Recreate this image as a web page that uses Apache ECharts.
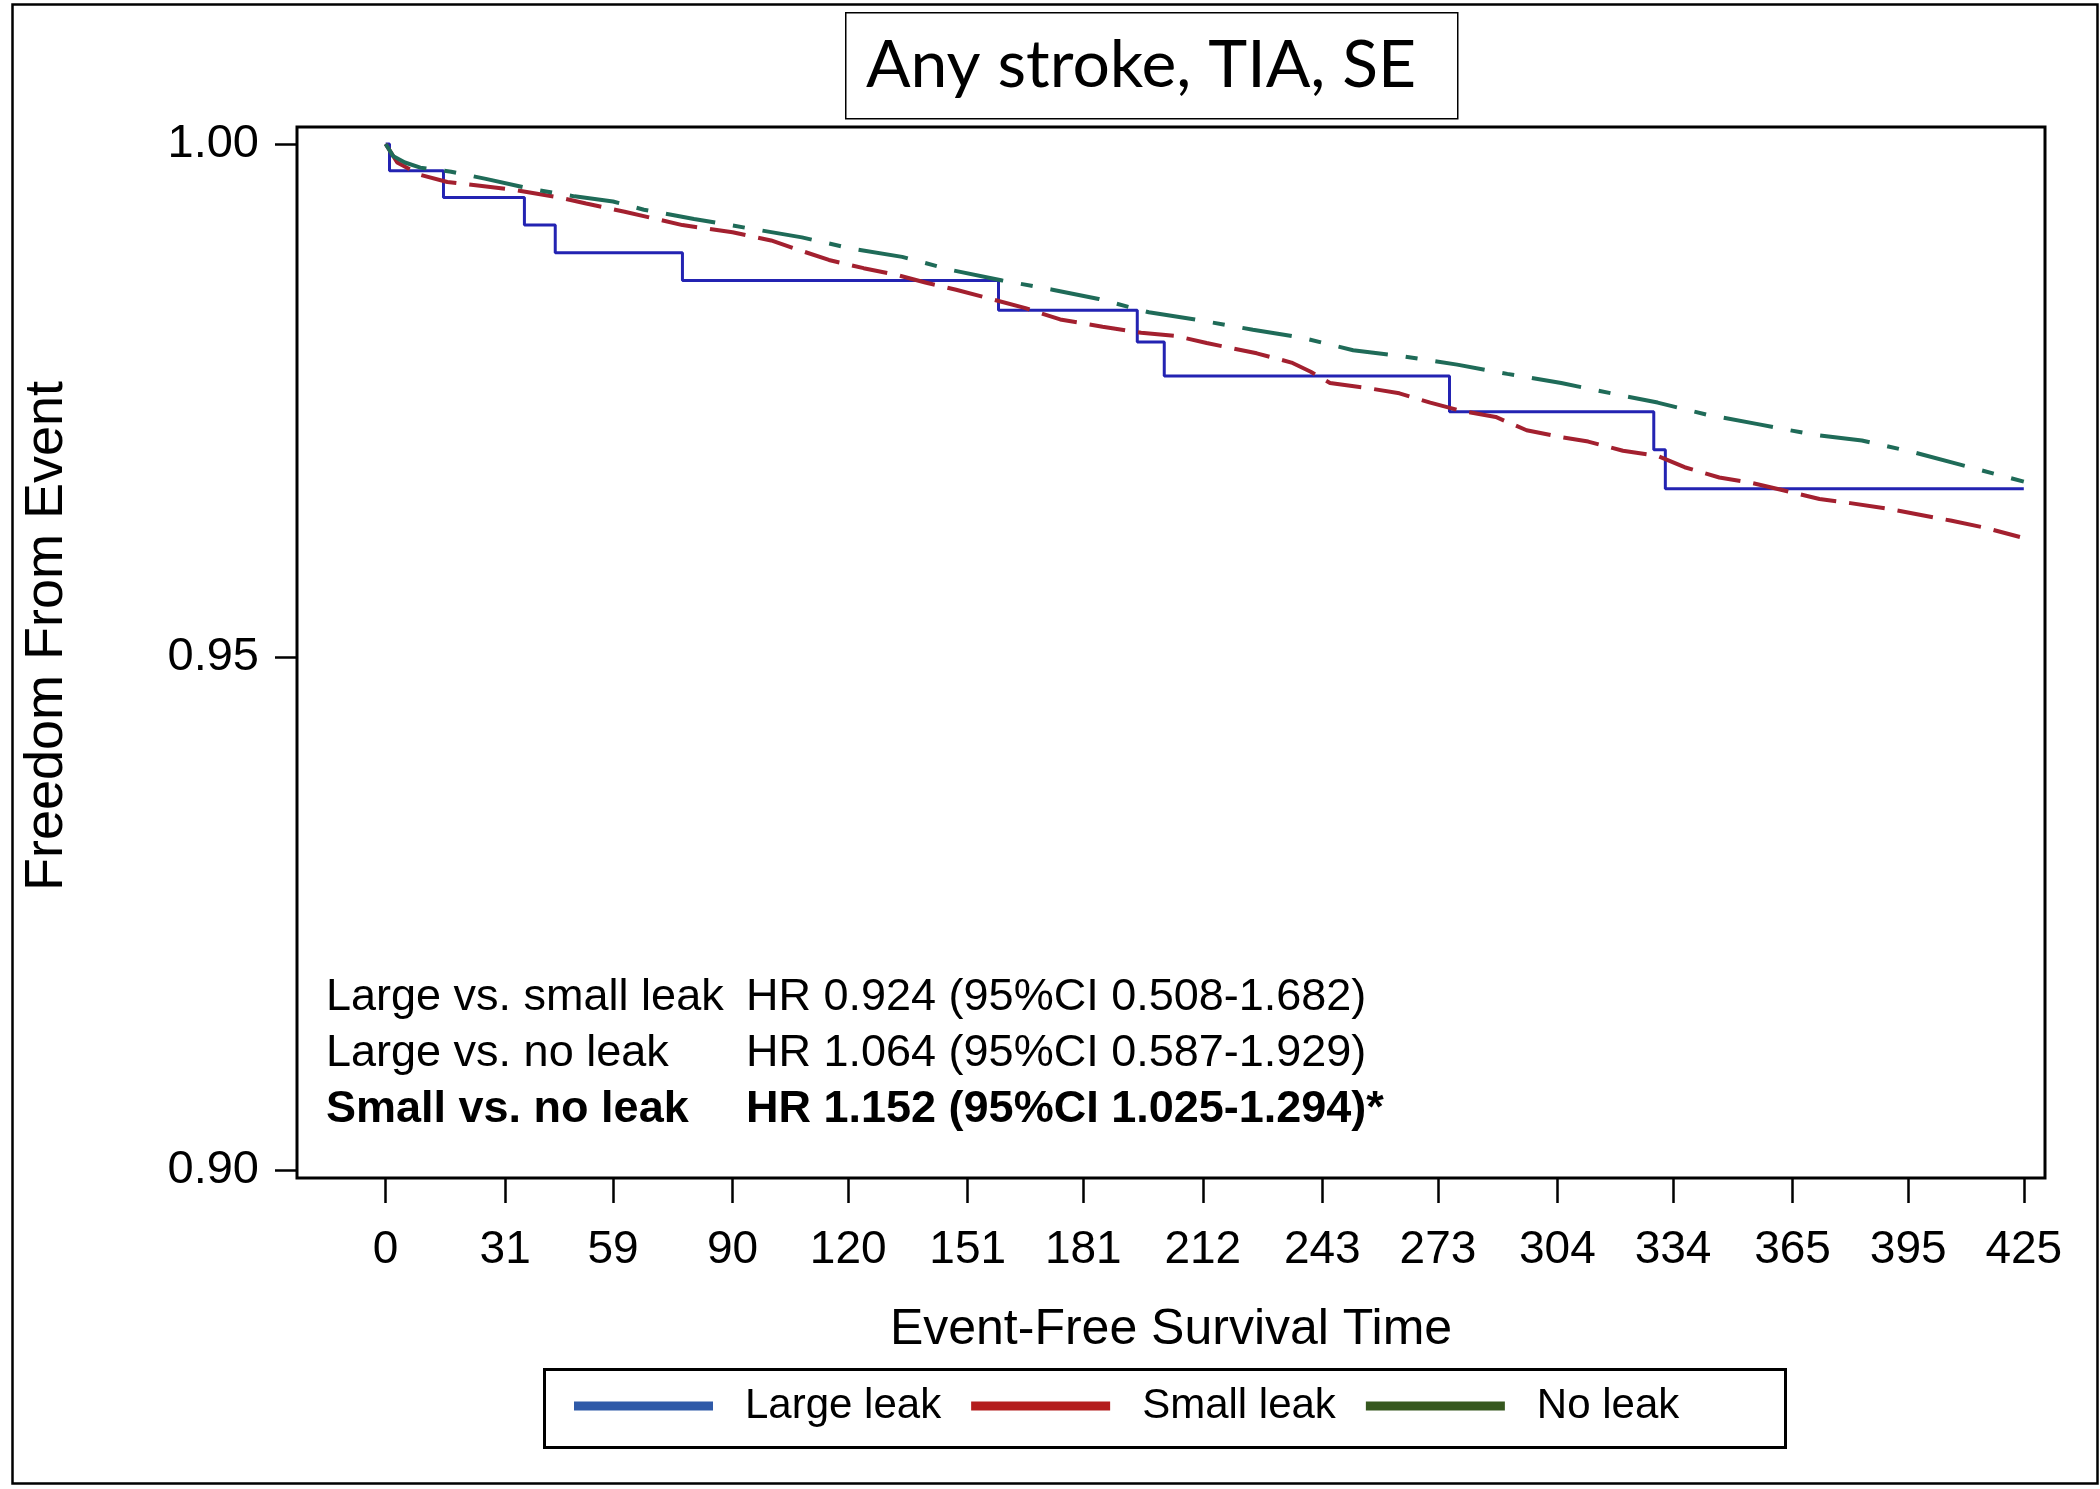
<!DOCTYPE html>
<html>
<head>
<meta charset="utf-8">
<script src="https://cdn.jsdelivr.net/npm/echarts@6/dist/echarts.min.js"></script>
<style>
html,body{margin:0;padding:0;background:#fff;}
#chart{width:2100px;height:1489px;}
</style>
</head>
<body>
<div id="chart"></div>
<script>
// ---- Data ----
var seriesNames = ['Large leak', 'Small leak', 'No leak'];
var xTickValues = [0, 31, 59, 90, 120, 151, 181, 212, 243, 273, 304, 334, 365, 395, 425];
var yTickValues = [0.90, 0.95, 1.00];

var largeLeakDays = [0, 1, 15, 36, 44, 77, 159, 195, 202, 276, 329, 332, 425];
var largeLeakSurv = [1.0, 0.9974, 0.9948, 0.9921, 0.9894, 0.9867, 0.9838, 0.9807, 0.9774, 0.9739, 0.9702, 0.9664, 0.9664];

var smallLeakDays = [0, 3, 9, 16, 25, 34, 45, 52, 62, 69, 77, 90, 100, 107, 115, 124, 133, 140, 148, 158, 166, 175, 186, 196, 205, 213, 226, 235, 240, 245, 255, 263, 271, 279, 288, 296, 304, 312, 321, 330, 337, 346, 354, 362, 372, 380, 389, 399, 406, 415, 424];
var smallLeakSurv = [1.0, 0.9982, 0.9970, 0.9963, 0.9959, 0.9955, 0.9948, 0.9942, 0.9934, 0.9928, 0.9921, 0.9914, 0.9906, 0.9897, 0.9887, 0.9879, 0.9872, 0.9865, 0.9858, 0.9848, 0.9840, 0.9829, 0.9822, 0.9816, 0.9813, 0.9806, 0.9796, 0.9787, 0.9778, 0.9767, 0.9762, 0.9757, 0.9748, 0.9740, 0.9734, 0.9721, 0.9715, 0.9710, 0.9701, 0.9696, 0.9685, 0.9675, 0.9670, 0.9663, 0.9654, 0.9650, 0.9645, 0.9638, 0.9633, 0.9626, 0.9617];

var noLeakDays = [0, 2, 5, 9, 17, 26, 38, 49, 59, 67, 80, 94, 108, 121, 134, 140, 147, 160, 173, 185, 198, 210, 225, 238, 251, 264, 278, 291, 305, 318, 330, 343, 356, 370, 383, 396, 408, 420, 425];
var noLeakSurv = [1.0, 0.9988, 0.9982, 0.9977, 0.9973, 0.9966, 0.9956, 0.9949, 0.9944, 0.9936, 0.9927, 0.9918, 0.9909, 0.9898, 0.9890, 0.9884, 0.9877, 0.9867, 0.9858, 0.9849, 0.9836, 0.9829, 0.9819, 0.9811, 0.9799, 0.9793, 0.9785, 0.9776, 0.9767, 0.9757, 0.9748, 0.9736, 0.9727, 0.9717, 0.9711, 0.9700, 0.9688, 0.9676, 0.9671];

var titleText = 'Any stroke, TIA, SE';
var xAxisTitle = 'Event-Free Survival Time';
var yAxisTitle = 'Freedom From Event';
var annotationLabels = ['Large vs. small leak', 'Large vs. no leak', 'Small vs. no leak'];
var annotationHR = ['HR 0.924 (95%CI 0.508-1.682)', 'HR 1.064 (95%CI 0.587-1.929)', 'HR 1.152 (95%CI 1.025-1.294)*'];

function pairs(xs, ys) { return xs.map(function (x, i) { return [x, ys[i]]; }); }

var FONT = 'Liberation Sans, Arial, sans-serif';
var lineColors = ['#2323b2', '#a3202f', '#1f6b58'];
var legendColors = ['#2f5aa8', '#b41e1e', '#36581f'];

var chart = echarts.init(document.getElementById('chart'), null, { renderer: 'canvas' });

var annotationGraphics = [];
var annY = [998, 1054, 1110];
annotationLabels.forEach(function (t, i) {
  var bold = (i === 2) ? 'bold' : 'normal';
  annotationGraphics.push({
    type: 'text', x: 326, y: annY[i], z: 10,
    style: { text: t, font: bold + ' 45px ' + FONT, fill: '#000', textAlign: 'left', textVerticalAlign: 'middle' }
  });
  annotationGraphics.push({
    type: 'text', x: 746, y: annY[i], z: 10,
    style: { text: annotationHR[i], font: bold + ' 45px ' + FONT, fill: '#000', textAlign: 'left', textVerticalAlign: 'middle' }
  });
});

var option = {
  backgroundColor: '#ffffff',
  animation: false,
  textStyle: { fontFamily: FONT },
  grid: {
    left: 297, right: 55, top: 127, bottom: 311,
    show: true, borderColor: '#000', borderWidth: 3, backgroundColor: 'transparent'
  },
  legend: {
    left: 574, top: 1385,
    padding: 0,
    itemWidth: 139, itemHeight: 9, itemGap: 30,
    icon: 'rect',
    textStyle: { fontSize: 42, color: '#000', fontFamily: FONT, lineHeight: 42, padding: [0, 0, 0, 27] },
    data: seriesNames.map(function (n, i) {
      return { name: n, icon: 'rect', itemStyle: { color: legendColors[i] } };
    })
  },
  xAxis: {
    type: 'value', min: -23, max: 430.5,
    name: xAxisTitle, nameLocation: 'middle', nameGap: 127,
    nameTextStyle: { fontSize: 50, color: '#000', fontFamily: FONT },
    axisLine: { show: false, onZero: false },
    splitLine: { show: false },
    axisTick: { show: true, inside: false, length: 25, customValues: xTickValues, lineStyle: { color: '#000', width: 2.5 } },
    axisLabel: { customValues: xTickValues, fontSize: 46, color: '#000', margin: 49, fontFamily: FONT }
  },
  yAxis: {
    type: 'value', min: 0.89922, max: 1.00166,
    axisLine: { show: false, onZero: false },
    splitLine: { show: false },
    axisTick: { show: true, inside: false, length: 22, customValues: yTickValues, lineStyle: { color: '#000', width: 2.5 } },
    axisLabel: { customValues: yTickValues, fontSize: 47, color: '#000', margin: 38, fontFamily: FONT,
      formatter: function (v) { return v.toFixed(2); } }
  },
  series: [
    {
      name: seriesNames[0], type: 'line', step: 'end', showSymbol: false, z: 3,
      data: pairs(largeLeakDays, largeLeakSurv),
      lineStyle: { color: lineColors[0], width: 3 },
      itemStyle: { color: legendColors[0] }
    },
    {
      name: seriesNames[1], type: 'line', showSymbol: false, z: 4,
      data: pairs(smallLeakDays, smallLeakSurv),
      lineStyle: { color: lineColors[1], width: 4, type: [36, 13] },
      itemStyle: { color: legendColors[1] }
    },
    {
      name: seriesNames[2], type: 'line', showSymbol: false, z: 4,
      data: pairs(noLeakDays, noLeakSurv),
      lineStyle: { color: lineColors[2], width: 4, type: [50, 18, 12, 18] },
      itemStyle: { color: legendColors[2] }
    }
  ],
  graphic: [
    { type: 'rect', left: 10, top: 2, z: 0, silent: true,
      shape: { width: 2085, height: 1479 },
      style: { fill: 'none', stroke: '#000', lineWidth: 2.5 } },
    { type: 'rect', left: 845, top: 12, z: 1, silent: true,
      shape: { width: 612, height: 106 },
      style: { fill: '#fff', stroke: '#000', lineWidth: 1.5 } },
    { type: 'text', x: 866, y: 66, z: 2,
      style: { text: titleText, font: 'normal 66px Lato, "Open Sans", sans-serif', fill: '#000', textAlign: 'left', textVerticalAlign: 'middle' } },
    { type: 'text', x: 47, y: 636, rotation: Math.PI / 2, z: 2,
      style: { text: yAxisTitle, font: 'normal 54px ' + FONT, fill: '#000', textAlign: 'center', textVerticalAlign: 'middle' } },
    { type: 'rect', left: 542, top: 1367, z: 1, silent: true,
      shape: { width: 1241, height: 78 },
      style: { fill: 'none', stroke: '#000', lineWidth: 3 } }
  ].concat(annotationGraphics)
};

chart.setOption(option);
</script>
</body>
</html>
